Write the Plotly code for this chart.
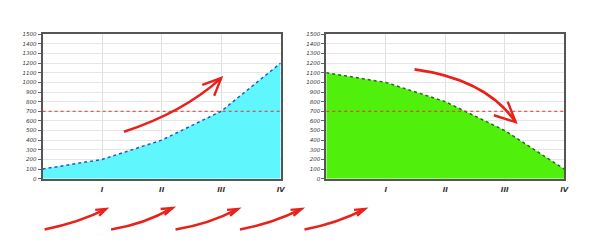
import plotly.graph_objects as go

# ---- data ----
positions = [0, 1, 2, 3, 4]
tick_labels = ["I", "II", "III", "IV"]
growth_values = [100, 200, 400, 700, 1200]
decline_values = [1100, 1000, 800, 500, 100]
threshold = 700
y_ticks = list(range(0, 1501, 100))

W, H = 600, 250

def px(x, y):
    return f"{x / W:.4f},{(H - y) / H:.4f}"

# arrows: (start, control, tip, head1, head2) in pixel coords
arrows = [
    ((125, 132), (185, 112), (223, 77), (204, 84), (216, 95)),
    ((418, 68), (490, 78), (520, 122), (512, 101), (498, 115)),
    ((45, 232), (80, 225), (107, 211), (96, 212), (100, 218)),
    ((112, 232), (145, 227), (174, 210), (162, 211), (166, 217)),
    ((177, 232), (210, 227), (240, 211), (229, 212), (232, 218)),
    ((242, 232), (275, 226), (304, 211), (293, 212), (296, 218)),
    ((307, 232), (340, 226), (368, 211), (357, 212), (360, 218)),
]

fig = go.Figure()

fig.add_trace(go.Scatter(
    x=positions, y=growth_values, mode="lines", fill="tozeroy",
    fillcolor="#5ff6fe", line=dict(color="#2255cc", width=1.5, dash="dot"),
    xaxis="x", yaxis="y", hoverinfo="skip"))
fig.add_trace(go.Scatter(
    x=positions, y=decline_values, mode="lines", fill="tozeroy",
    fillcolor="#50f00c", line=dict(color="#2a6a1a", width=1.5, dash="dot"),
    xaxis="x2", yaxis="y2", hoverinfo="skip"))
for xa, ya in (("x", "y"), ("x2", "y2")):
    fig.add_trace(go.Scatter(
        x=[positions[0], positions[-1]], y=[threshold, threshold], mode="lines",
        line=dict(color="#e8302a", width=1, dash="dot"),
        xaxis=xa, yaxis=ya, hoverinfo="skip"))

xcommon = dict(range=[0, 4], tickvals=[1, 2, 3, 4], ticktext=tick_labels,
               showgrid=True, gridcolor="#e0e0e0", gridwidth=1,
               showline=True, linecolor="#555555", linewidth=2, mirror=True,
               ticks="", zeroline=False, ticklabelstandoff=3,
               tickfont=dict(family="DejaVu Sans", size=7, color="#333",
                             style="italic", weight="bold"))
ycommon = dict(range=[0, 1500], tickvals=y_ticks, showgrid=True,
               gridcolor="#e6e6e6", gridwidth=1,
               showline=True, linecolor="#555555", linewidth=2, mirror=True,
               ticks="outside", ticklen=3, tickcolor="#666", zeroline=False,
               tickfont=dict(family="DejaVu Sans", size=5.5, color="#333",
                             style="italic"))

shapes = []
for s, c, t, h1, h2 in arrows:
    shapes.append(dict(type="path", xref="paper", yref="paper",
                       path=f"M{px(*s)} Q{px(*c)} {px(*t)}",
                       line=dict(color="#e8211a", width=2.6)))
    shapes.append(dict(type="path", xref="paper", yref="paper",
                       path=f"M{px(*h1)} L{px(*t)} L{px(*h2)}",
                       line=dict(color="#e8211a", width=2.4)))

fig.update_layout(
    width=W, height=H, margin=dict(l=0, r=0, t=0, b=0),
    paper_bgcolor="white", plot_bgcolor="white", showlegend=False,
    xaxis=dict(domain=[43 / W, 283 / W], anchor="y", **xcommon),
    yaxis=dict(domain=[(H - 180) / H, (H - 32) / H], anchor="x", **ycommon),
    xaxis2=dict(domain=[329 / W, 569 / W], anchor="y2", **xcommon),
    yaxis2=dict(domain=[(H - 180) / H, (H - 32) / H], anchor="x2", **ycommon),
    shapes=shapes,
)

fig.write_html("out.html")
